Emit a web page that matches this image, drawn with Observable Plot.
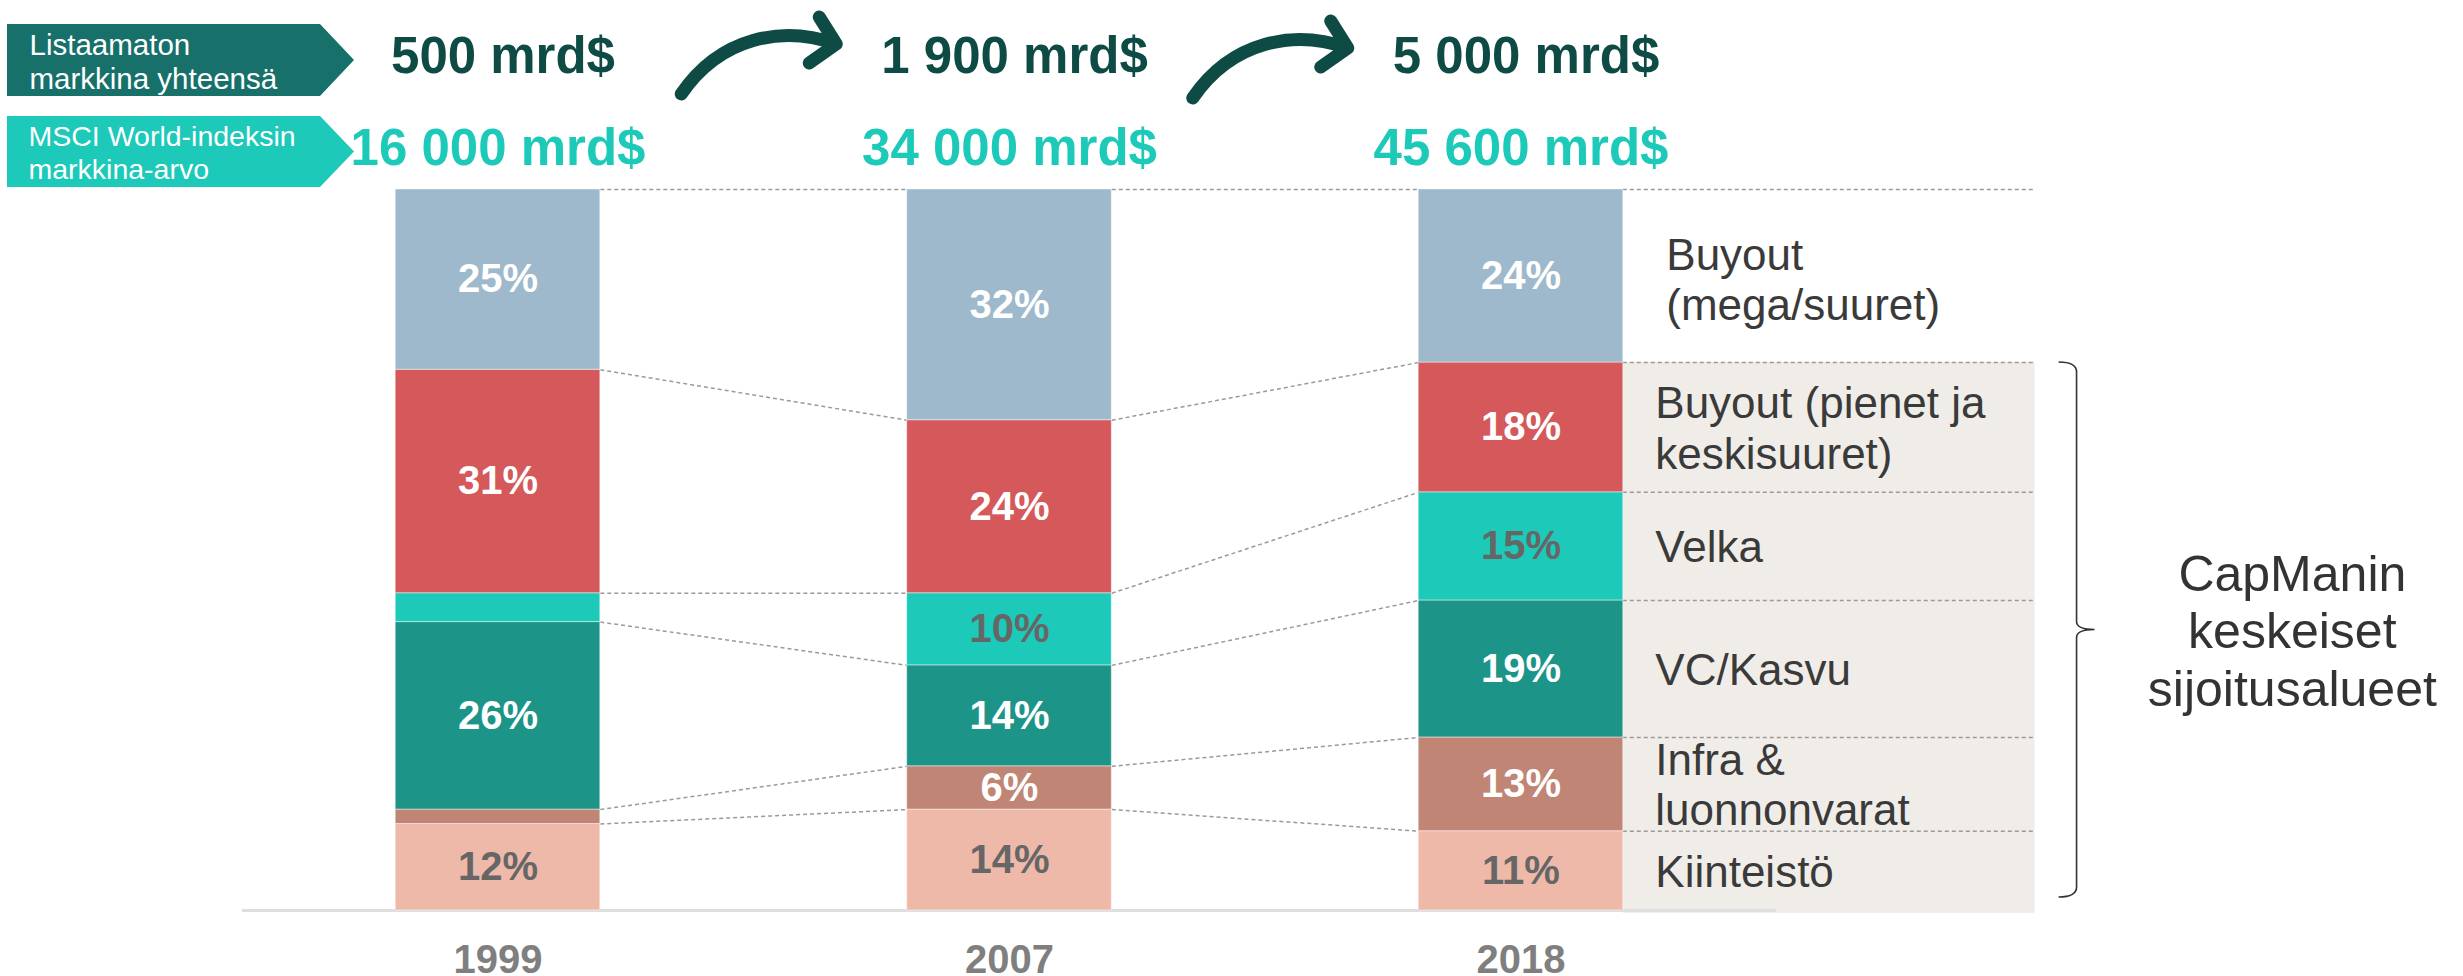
<!DOCTYPE html>
<html>
<head>
<meta charset="utf-8">
<script src="https://cdn.jsdelivr.net/npm/d3@7"></script>
<script src="https://cdn.jsdelivr.net/npm/@observablehq/plot@0.6"></script>
<style>
  html, body { margin: 0; padding: 0; background: #ffffff; }
  #chart { width: 2463px; height: 976px; }
</style>
</head>
<body>
<div id="chart"></div>
<script>
// ---------------- data ----------------
const years = ["1999", "2007", "2018"];
const categories = ["Kiinteistö", "Infra & luonnonvarat", "VC/Kasvu", "Velka", "Buyout (pienet ja keskisuuret)", "Buyout (mega/suuret)"];
const categoryLabels = ["Kiinteistö", "Infra &\nluonnonvarat", "VC/Kasvu", "Velka", "Buyout (pienet ja\nkeskisuuret)", "Buyout\n(mega/suuret)"];
const shares1999 = [12, 2, 26, 4, 31, 25];
const shares2007 = [14, 6, 14, 10, 24, 32];
const shares2018 = [11, 13, 19, 15, 18, 24];
const labels1999 = ["12%", "", "26%", "", "31%", "25%"];
const labels2007 = ["14%", "6%", "14%", "10%", "24%", "32%"];
const labels2018 = ["11%", "13%", "19%", "15%", "18%", "24%"];
const privateMarket = ["500 mrd$", "1 900 mrd$", "5 000 mrd$"];
const msciMarket = ["16 000 mrd$", "34 000 mrd$", "45 600 mrd$"];
const headerLabels = ["Listaamaton\nmarkkina yhteensä", "MSCI World-indeksin\nmarkkina-arvo"];
const braceLabel = "CapManin\nkeskeiset\nsijoitusalueet";

// ---------------- styles ----------------
const palette = ["#efb9a9", "#c08574", "#1d9488", "#1dc9b8", "#d5585a", "#9eb9cb"];
const labelInk = ["#666666", "#ffffff", "#ffffff", "#666666", "#ffffff", "#ffffff"];
const darkGreen = "#0e4b45";
const boxDark = "#17706a";
const teal = "#1dc9b8";
const FONT = "'Liberation Sans', Arial, Helvetica, sans-serif";

// ---------------- layout ----------------
const W = 2463, H = 976;
const X0 = 497.5, STEP = 511.5;   // pixel centre of first bar, spacing
const HALF = 0.2;                  // half bar width in index units
const PANEL_END = 3.005;

// ---------------- derived ----------------
const shares = [shares1999, shares2007, shares2018];
const labels = [labels1999, labels2007, labels2018];
const rows = [];
const cum = [];
shares.forEach((s, i) => {
  let acc = 0;
  const c = [0];
  s.forEach((v, k) => {
    rows.push({i, year: years[i], k, cat: categories[k], v, y1: acc, y2: acc + v, label: labels[i][k]});
    acc += v;
    c.push(acc);
  });
  cum.push(c);
});
const links = [];
for (let i = 0; i < years.length - 1; ++i) {
  for (let k = 1; k <= categories.length; ++k) {
    links.push({x1: i + HALF, y1: cum[i][k], x2: i + 1 - HALF, y2: cum[i + 1][k]});
  }
}
const last = years.length - 1;
const rowsLast = rows.filter(d => d.i === last);
const braceTop = cum[last][categories.length - 1];
const braceBottom = 1.8;

function decorations(index, scales) {
  const {x, y} = scales;
  const g = d3.create("svg:g");
  // header arrow boxes
  const boxes = [{t: 24, b: 96, fill: boxDark}, {t: 116, b: 187, fill: teal}];
  for (const bx of boxes) {
    const m = (bx.t + bx.b) / 2;
    g.append("polygon")
      .attr("points", [[7, bx.t], [320, bx.t], [354, m], [320, bx.b], [7, bx.b]].map(p => p.join(",")).join(" "))
      .attr("fill", bx.fill);
  }
  // curved arrows between the years
  [0.5, 1.5].forEach((c, j) => {
    const cx = x(c), oy = j * 4;
    const p = d3.path();
    p.moveTo(cx - 72, 94 + oy);
    p.bezierCurveTo(cx - 33, 37 + oy, cx + 29, 25 + oy, cx + 83, 44 + oy);
    p.moveTo(cx + 66, 17 + oy);
    p.lineTo(cx + 83, 44 + oy);
    p.lineTo(cx + 56, 63 + oy);
    g.append("path").attr("d", p.toString())
      .attr("fill", "none").attr("stroke", darkGreen)
      .attr("stroke-width", 13).attr("stroke-linecap", "round").attr("stroke-linejoin", "round");
  });
  // brace
  const bxv = x(PANEL_END) + 42;
  const t = y(braceTop), b = y(braceBottom), m = (t + b) / 2;
  const bp = d3.path();
  bp.moveTo(bxv - 18, t);
  bp.quadraticCurveTo(bxv, t, bxv, t + 10);
  bp.lineTo(bxv, m - 8);
  bp.quadraticCurveTo(bxv, m, bxv + 18, m);
  bp.quadraticCurveTo(bxv, m, bxv, m + 8);
  bp.lineTo(bxv, b - 10);
  bp.quadraticCurveTo(bxv, b, bxv - 18, b);
  g.append("path").attr("d", bp.toString())
    .attr("fill", "none").attr("stroke", "#333").attr("stroke-width", 1.6);
  return g.node();
}

const chart = Plot.plot({
  width: W,
  height: H,
  marginTop: 189,
  marginBottom: 66,
  marginLeft: 0,
  marginRight: 0,
  style: {fontFamily: FONT, background: "#ffffff", overflow: "visible"},
  x: {type: "linear", domain: [-X0 / STEP, (W - X0) / STEP]},
  y: {domain: [0, 100], axis: null},
  color: {type: "identity"},
  marks: [
    // label panel
    Plot.rect([0], {x1: () => last + HALF, x2: () => PANEL_END, y1: () => -0.4, y2: () => braceTop, fill: "#f0ede8"}),
    Plot.ruleY(cum[last].slice(1), {x1: () => last + HALF, x2: () => PANEL_END, stroke: "#9a9a9a", strokeWidth: 1.5, strokeDasharray: "4,3"}),
    // baseline
    Plot.ruleY([0], {x1: () => -0.5, x2: () => 2.5, stroke: "#dedede", strokeWidth: 3}),
    // connectors
    Plot.link(links, {x1: "x1", y1: "y1", x2: "x2", y2: "y2", stroke: "#9a9a9a", strokeWidth: 1.5, strokeDasharray: "4,3"}),
    // stacked bars
    Plot.rect(rows, {x1: d => d.i - HALF, x2: d => d.i + HALF, y1: "y1", y2: "y2", fill: d => palette[d.k], stroke: "#ffffff", strokeWidth: 1, strokeOpacity: 0.45}),
    // percent labels
    Plot.text(rows.filter(d => d.label), {x: "i", y: d => (d.y1 + d.y2) / 2, text: "label", fill: d => labelInk[d.k], fontSize: 40, fontWeight: "bold"}),
    // category labels in the panel
    Plot.text(rowsLast.filter(d => d.k < categories.length - 1), {x: () => last + HALF, y: d => (d.y1 + d.y2) / 2, text: d => categoryLabels[d.k], dx: 32, textAnchor: "start", fontSize: 44, lineHeight: 1.14, fill: "#3a3a3a"}),
    Plot.text(rowsLast.filter(d => d.k === categories.length - 1), {x: () => last + HALF, y: d => (d.y1 + d.y2) / 2, text: d => categoryLabels[d.k], dx: 43, dy: 3, textAnchor: "start", fontSize: 44, lineHeight: 1.14, fill: "#3a3a3a"}),
    // brace label
    Plot.text([braceLabel], {x: () => 3.508, y: () => (braceTop + braceBottom) / 2, text: d => d, fontSize: 50, lineHeight: 1.15, fill: "#333333"}),
    // year axis
    Plot.axisX({ticks: [0, 1, 2], tickFormat: i => years[i], tickSize: 0, tickPadding: 34, fontSize: 40, fontWeight: "bold", color: "#7f7f7f", label: null}),
    // header decorations
    decorations,
    Plot.text([headerLabels[0]], {frameAnchor: "top-left", text: d => d, dx: 29, dy: 88 - 189, textAnchor: "start", lineAnchor: "bottom", lineHeight: 1.13, fontSize: 29.5, fill: "#ffffff"}),
    Plot.text([headerLabels[1]], {frameAnchor: "top-left", text: d => d, dx: 28, dy: 178 - 189, textAnchor: "start", lineAnchor: "bottom", lineHeight: 1.13, fontSize: 28.5, fill: "#ffffff"}),
    Plot.text(privateMarket, {x: (d, i) => i, text: d => d, frameAnchor: "top", dy: 72 - 189, dx: 5, lineAnchor: "bottom", fontSize: 51, fontWeight: "bold", fill: darkGreen}),
    Plot.text(msciMarket, {x: (d, i) => i, text: d => d, frameAnchor: "top", dy: 164 - 189, lineAnchor: "bottom", fontSize: 51, fontWeight: "bold", fill: teal})
  ]
});
document.getElementById("chart").append(chart);
</script>
</body>
</html>
